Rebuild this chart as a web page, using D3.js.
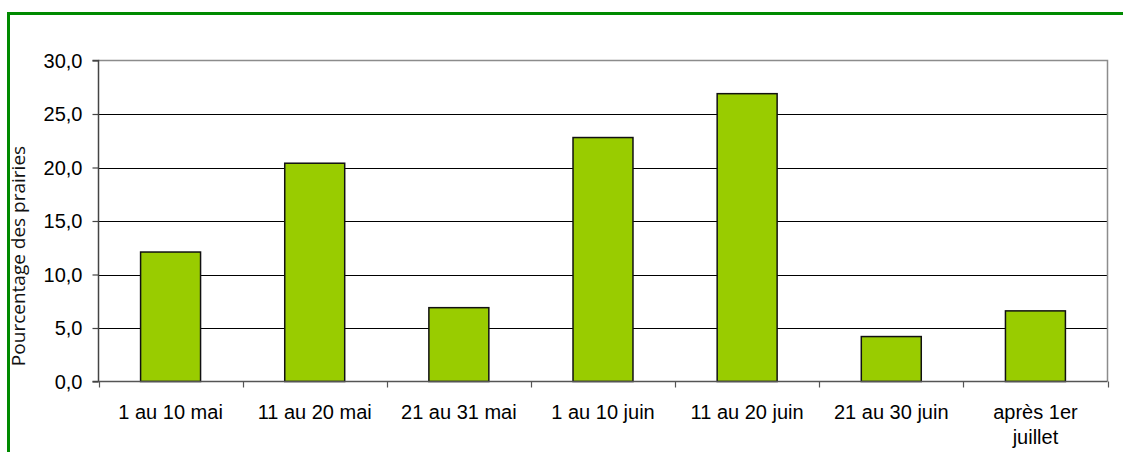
<!DOCTYPE html>
<html>
<head>
<meta charset="utf-8">
<script src="https://cdn.jsdelivr.net/npm/d3@7"></script>
<style>
html,body{margin:0;padding:0;background:#fff;}
svg{display:block;}
</style>
</head>
<body>
<svg id="chart" width="1123" height="452"></svg>
<script>
const categories = ["1 au 10 mai","11 au 20 mai","21 au 31 mai","1 au 10 juin","11 au 20 juin","21 au 30 juin","après 1er juillet"];
const values = [12.1, 20.4, 6.9, 22.8, 26.9, 4.2, 6.6];
const yTicks = [0,5,10,15,20,25,30];
const yTitle = "Pourcentage des prairies";

const svg = d3.select("#chart");
const W = 1123, H = 452;
const plot = {left: 98.5, right: 1107.5, top: 60.5, bottom: 381.5};
const FONT = "'Liberation Sans', Arial, sans-serif";

// green frame
svg.append("path")
  .attr("d", `M8.5,${H} L8.5,13.5 L${W},13.5`)
  .attr("fill","none").attr("stroke","#008a00").attr("stroke-width",3);

const x = d3.scaleBand().domain(categories).range([plot.left, plot.right]).paddingInner(0.584).paddingOuter(0.292);
const xb = d3.scaleBand().domain(categories).range([plot.left, plot.right]);
const y = d3.scaleLinear().domain([0,30]).range([plot.bottom, plot.top]);

const fmt = v => d3.format(".1f")(v).replace(".", ",");

// gridlines
svg.append("g").selectAll("line").data(yTicks.filter(t => t>0 && t<30)).join("line")
  .attr("x1", plot.left).attr("x2", plot.right)
  .attr("y1", d => Math.round(y(d))+0.5).attr("y2", d => Math.round(y(d))+0.5)
  .attr("stroke","#000").attr("stroke-width",1);

// plot border top & right
svg.append("path")
  .attr("d", `M${plot.left},${plot.top} L${plot.right},${plot.top} L${plot.right},${plot.bottom}`)
  .attr("fill","none").attr("stroke","#8c8c8c").attr("stroke-width",1.5);

// bars
svg.append("g").selectAll("rect").data(values).join("rect")
  .attr("x", (d,i) => x(categories[i]))
  .attr("width", x.bandwidth())
  .attr("y", d => y(d))
  .attr("height", d => y(0) - y(d))
  .attr("fill","#99cc00").attr("stroke","#111").attr("stroke-width",1.5);

// y axis
const yAxis = d3.axisLeft(y).tickValues(yTicks).tickFormat(fmt).tickSize(6).tickPadding(10);
const ga = svg.append("g").attr("transform", `translate(${plot.left},0)`).call(yAxis);
ga.attr("font-family", null).attr("font-size", null);
ga.select(".domain").attr("stroke","#444").attr("stroke-width",1.5).attr("d", `M-6,${plot.top}H0V${plot.bottom}H-6`);
ga.selectAll(".tick line").attr("stroke","#444").attr("stroke-width",1.2);
ga.selectAll("text").style("font-family",FONT).style("font-size","20px").attr("fill","#000").attr("dy","0.34em");

// x axis
const gx = svg.append("g").attr("transform", `translate(0,${plot.bottom})`);
gx.append("line").attr("x1", plot.left).attr("x2", plot.right).attr("y1",0).attr("y2",0).attr("stroke","#555").attr("stroke-width",1.5);
const bounds = categories.map(c => xb(c)).concat([plot.right]);
gx.selectAll("line.tk").data(bounds).join("line").attr("class","tk")
  .attr("x1", d => Math.round(d)+0.5).attr("x2", d => Math.round(d)+0.5).attr("y1",0).attr("y2",6)
  .attr("stroke","#555").attr("stroke-width",1.2);

// category labels
const labelLines = c => c === "après 1er juillet" ? ["après 1er","juillet"] : [c];
const lab = svg.append("g").selectAll("text").data(categories).join("text")
  .attr("x", c => xb(c) + xb.bandwidth()/2)
  .attr("y", 419)
  .attr("text-anchor","middle")
  .style("font-family",FONT)
  .style("font-size","20px").attr("fill","#000");
lab.each(function(c){
  const t = d3.select(this);
  labelLines(c).forEach((ln,i) => {
    t.append("tspan").attr("x", xb(c) + xb.bandwidth()/2).attr("dy", i===0 ? 0 : 25).text(ln);
  });
});

// y title
svg.append("text")
  .attr("transform", `translate(25,256) rotate(-90)`)
  .attr("text-anchor","middle")
  .style("font-family","'Open Sans', sans-serif")
  .style("font-size","19px").attr("fill","#111")
  .text(yTitle);
</script>
</body>
</html>
